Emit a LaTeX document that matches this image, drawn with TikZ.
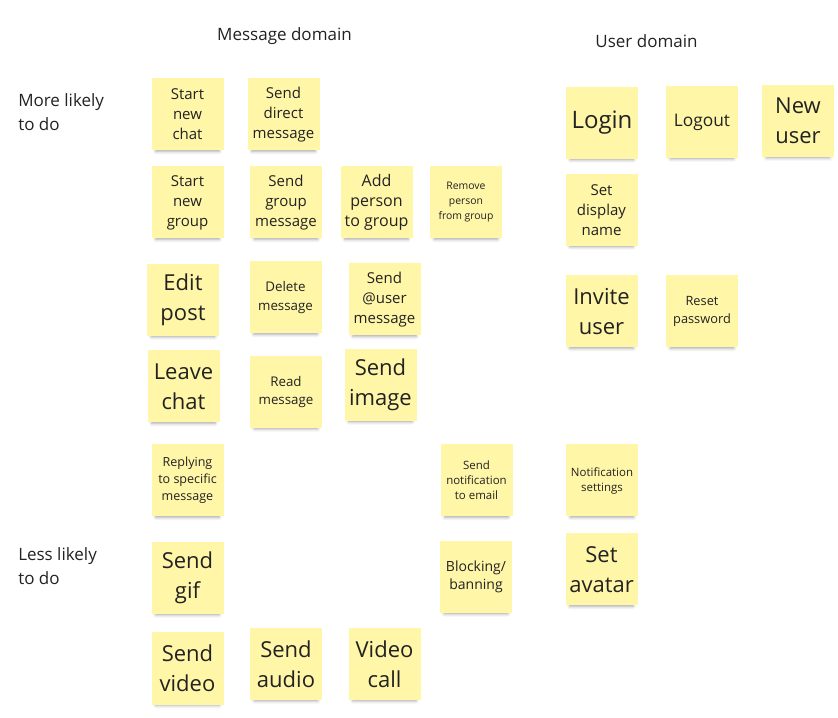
\documentclass[tikz,border=0pt]{standalone}
\usepackage{fontspec}
\setmainfont{Open Sans}
\usepackage{tikz}
\usetikzlibrary{shadows.blur}
\definecolor{postit}{RGB}{255,246,168}
\definecolor{ink}{RGB}{34,34,34}
\tikzstyle{note} = [rectangle, fill=postit, minimum width=54pt, minimum height=54pt, inner sep=0pt, align=center, text=ink, blur shadow={shadow xshift=0pt, shadow yshift=-4.5pt, shadow scale=0.88, shadow opacity=35, shadow blur radius=2.5pt}]
\tikzstyle{big} = [note, font=\fontsize{16.5}{22.5}\selectfont]
\tikzstyle{mid} = [note, font=\fontsize{11.25}{15}\selectfont]
\tikzstyle{smaller} = [note, font=\fontsize{10}{14}\selectfont]
\tikzstyle{tiny} = [note, font=\fontsize{8.6}{11.25}\selectfont]
\tikzstyle{heading} = [text=ink, font=\fontsize{12.75}{18}\selectfont, inner sep=0pt]

\begin{document}
\begin{tikzpicture}[x=0.75pt, y=0.75pt]

        \useasboundingbox (0,0) rectangle (838,717);

        \node (msgdomain) [heading, anchor=base] at (284.5,676) {Message domain};
        \node (userdomain) [heading, anchor=base] at (646.5,669) {User domain};
        \node (morelikely) [heading, anchor=base west, align=left] at (18,586) {More likely\\to do};
        \node (lesslikely) [heading, anchor=base west, align=left] at (18,132) {Less likely\\to do};

        \node (newchat) [mid] at (187.5,602.5) {Start\\new\\chat};
        \node (direct) [mid] at (283.5,602.5) {Send\\direct\\message};
        \node (newgroup) [mid] at (187.5,514.5) {Start\\new\\group};
        \node (groupmsg) [mid] at (286,514.5) {Send\\group\\message};
        \node (addperson) [mid, font=\fontsize{12}{15}\selectfont] at (376.5,514.5) {Add\\person\\to group};
        \node (removeperson) [tiny, font=\fontsize{7.8}{11.25}\selectfont] at (466,514.5) {Remove\\person\\from group};

        \node (editpost) [big] at (183,417) {Edit\\post};
        \node (delete) [smaller] at (285.5,419.5) {Delete\\message};
        \node (mention) [mid] at (384.5,417.5) {Send\\@user\\message};
        \node (leave) [big] at (183.5,330.5) {Leave\\chat};
        \node (read) [smaller] at (286,325) {Read\\message};
        \node (image) [big] at (380.5,332) {Send\\image};

        \node (reply) [tiny, font=\fontsize{9.4}{12.75}\selectfont] at (187.5,236.5) {Replying\\to specific\\message};
        \node (notifyemail) [tiny] at (476.5,236.5) {Send\\notification\\to email};
        \node (gif) [big] at (187.5,139) {Send\\gif};
        \node (block) [smaller, font=\fontsize{10.5}{14}\selectfont] at (476,140) {Blocking/\\banning};
        \node (video) [big] at (187.5,48.5) {Send\\video};
        \node (audio) [big] at (286,53) {Send\\audio};
        \node (call) [big] at (384.5,53) {Video\\call};

        \node (login) [big, font=\fontsize{18}{22.5}\selectfont] at (602,594) {Login};
        \node (logout) [mid, font=\fontsize{13}{15}\selectfont] at (702,595) {Logout};
        \node (newuser) [big] at (798,596) {New\\user};
        \node (displayname) [mid] at (601.5,507) {Set\\display\\name};
        \node (invite) [big] at (601.5,405.5) {Invite\\user};
        \node (reset) [smaller, font=\fontsize{9.6}{13.5}\selectfont] at (702,405.5) {Reset\\password};
        \node (notifsettings) [tiny] at (602,236.5) {Notification\\settings};
        \node (avatar) [big] at (601.5,147.5) {Set\\avatar};

    \end{tikzpicture}
\end{document}
